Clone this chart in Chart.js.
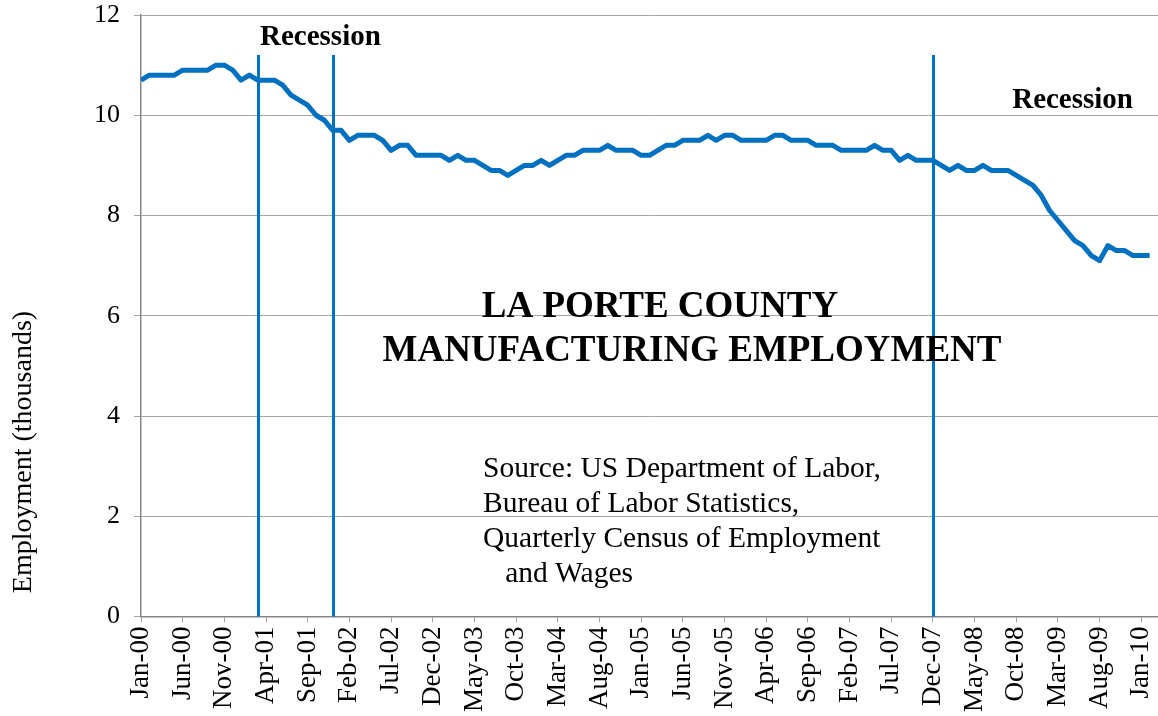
<!DOCTYPE html>
<html>
<head>
<meta charset="utf-8">
<script src="https://cdn.jsdelivr.net/npm/chart.js@4.4.1/dist/chart.umd.min.js"></script>
<style>
  html, body { margin: 0; padding: 0; background: #fff; }
</style>
</head>
<body>
<canvas id="chart" width="1158" height="716"></canvas>
<script>
// monthly manufacturing employment, thousands, Jan-00 .. Feb-10
const employment = [
  10.7, 10.8, 10.8, 10.8, 10.8, 10.9, 10.9, 10.9, 10.9, 11.0, 11.0, 10.9,
  10.7, 10.8, 10.7, 10.7, 10.7, 10.6, 10.4, 10.3, 10.2, 10.0, 9.9, 9.7,
  9.7, 9.5, 9.6, 9.6, 9.6, 9.5, 9.3, 9.4, 9.4, 9.2, 9.2, 9.2,
  9.2, 9.1, 9.2, 9.1, 9.1, 9.0, 8.9, 8.9, 8.8, 8.9, 9.0, 9.0,
  9.1, 9.0, 9.1, 9.2, 9.2, 9.3, 9.3, 9.3, 9.4, 9.3, 9.3, 9.3,
  9.2, 9.2, 9.3, 9.4, 9.4, 9.5, 9.5, 9.5, 9.6, 9.5, 9.6, 9.6,
  9.5, 9.5, 9.5, 9.5, 9.6, 9.6, 9.5, 9.5, 9.5, 9.4, 9.4, 9.4,
  9.3, 9.3, 9.3, 9.3, 9.4, 9.3, 9.3, 9.1, 9.2, 9.1, 9.1, 9.1,
  9.0, 8.9, 9.0, 8.9, 8.9, 9.0, 8.9, 8.9, 8.9, 8.8, 8.7, 8.6,
  8.4, 8.1, 7.9, 7.7, 7.5, 7.4, 7.2, 7.1, 7.4, 7.3, 7.3, 7.2,
  7.2, 7.2
]

const monthNames = ['Jan', 'Feb', 'Mar', 'Apr', 'May', 'Jun', 'Jul', 'Aug', 'Sep', 'Oct', 'Nov', 'Dec']
const months = employment.map((v, i) => monthNames[i % 12] + '-' + String(Math.floor(i / 12)).padStart(2, '0'))

const recessionMonths = ['Mar-01', 'Dec-01', 'Dec-07']
const titleLines = ['LA PORTE COUNTY', 'MANUFACTURING EMPLOYMENT']
const sourceLines = ['Source: US Department of Labor,', 'Bureau of Labor Statistics,', 'Quarterly Census of Employment', '   and Wages']

const blue = '#0070C0'
const gray = '#a6a6a6'
const serif = "'Liberation Serif', 'Times New Roman', serif"

Chart.defaults.font.family = serif
Chart.defaults.color = '#000'

const annotations = {
  id: 'annotations',
  afterDatasetsDraw(chart) {
    const { ctx, scales: { x, y } } = chart
    ctx.save()

    // recession markers
    ctx.strokeStyle = blue
    ctx.lineWidth = 3
    recessionMonths.forEach(m => {
      const px = Math.round(x.getPixelForValue(months.indexOf(m))) + 0.5
      ctx.beginPath()
      ctx.moveTo(px, y.getPixelForValue(0))
      ctx.lineTo(px, y.getPixelForValue(11.2))
      ctx.stroke()
    })

    ctx.fillStyle = '#000'
    ctx.textBaseline = 'alphabetic'

    ctx.font = 'bold 29px ' + serif
    ctx.textAlign = 'left'
    ctx.fillText('Recession', 260, 45)
    ctx.textAlign = 'right'
    ctx.fillText('Recession', 1133, 108)

    ctx.font = 'bold 37px ' + serif
    ctx.textAlign = 'center'
    ctx.fillText(titleLines[0], 660, 317)
    ctx.fillText(titleLines[1], 692, 361)

    ctx.font = '29.5px ' + serif
    ctx.textAlign = 'left'
    sourceLines.forEach((line, i) => ctx.fillText(line, 483, 477 + i * 35))

    // y axis title
    ctx.font = '28px ' + serif
    ctx.textAlign = 'center'
    ctx.translate(31, 452)
    ctx.rotate(-Math.PI / 2)
    ctx.fillText('Employment (thousands)', 0, 0)

    ctx.restore()
  }
}

new Chart('chart', {
  type: 'line',
  data: {
    datasets: [{
      data: employment.map((v, i) => ({ x: i, y: v })),
      borderColor: blue,
      borderWidth: 5,
      borderJoinStyle: 'round',
      pointRadius: 0,
      tension: 0,
      fill: false
    }]
  },
  options: {
    responsive: false,
    animation: false,
    devicePixelRatio: 1,
    layout: { padding: { left: 80, right: 0, top: 15, bottom: 0 } },
    plugins: { legend: { display: false }, tooltip: { enabled: false } },
    scales: {
      x: {
        type: 'linear',
        min: 0,
        max: 122,
        grid: { drawOnChartArea: false, color: gray, tickLength: 6 },
        border: { color: '#868686', width: 1.5 },
        ticks: {
          stepSize: 5,
          includeBounds: false,
          autoSkip: false,
          maxRotation: 90,
          minRotation: 90,
          padding: 4,
          font: { size: 27 },
          callback: value => months[value]
        },
        afterFit: scale => { scale.paddingLeft = 0; scale.paddingRight = 0 }
      },
      y: {
        min: 0,
        max: 12,
        grid: { color: gray, tickLength: 7 },
        border: { color: '#868686', width: 1.5 },
        ticks: { stepSize: 2, padding: 14, font: { size: 26 } },
        afterFit: scale => { scale.paddingTop = 0; scale.paddingBottom = 0 }
      }
    }
  },
  plugins: [annotations]
})
</script>
</body>
</html>
